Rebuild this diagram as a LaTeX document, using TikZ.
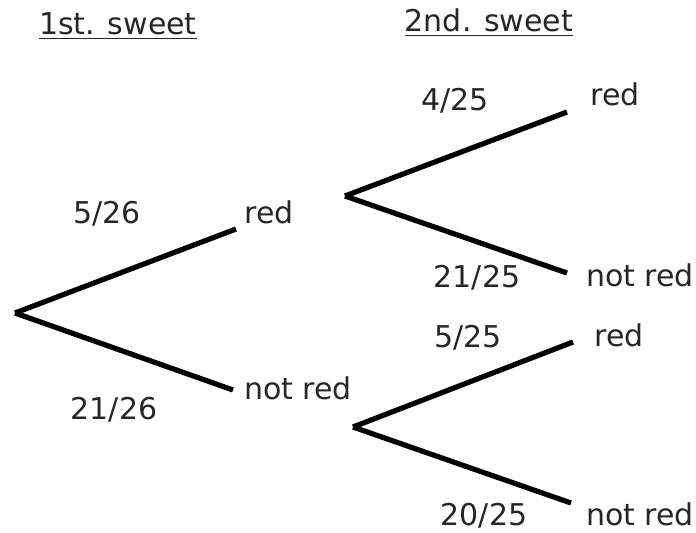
\documentclass[tikz,border=0pt]{standalone}
\usepackage{fontspec}
\setmainfont{DejaVu Sans}

\begin{document}
\begin{tikzpicture}[x=0.5pt,y=-0.5pt,
  lbl/.style={anchor=base,inner sep=0pt,text=black!85,font=\fontsize{15}{18}\selectfont},
  branch/.style={line width=2.6pt}]
  \useasboundingbox (0,0) rectangle (696,533);
  \node[lbl] (h1) at (118,35) {\underline{1st. sweet}};
  \node[lbl] (h2) at (489,32) {\underline{2nd. sweet}};

  \coordinate (o) at (15,313);
  \coordinate (a1) at (236,229);
  \coordinate (b1) at (233,390);
  \coordinate (o2) at (345,196);
  \coordinate (a2) at (567,112);
  \coordinate (b2) at (567,273);
  \coordinate (o3) at (353,427);
  \coordinate (a3) at (573,342);
  \coordinate (b3) at (571,503);

  \node[lbl] (p1) at (107,224) {5/26};
  \node[lbl] (l1) at (269,224) {red};
  \node[lbl] (q1) at (114,420) {21/26};
  \node[lbl] (m1) at (298,400) {not red};
  \node[lbl] (p2) at (455,111) {4/25};
  \node[lbl] (l2) at (615,106) {red};
  \node[lbl] (q2) at (477,288) {21/25};
  \node[lbl] (m2) at (640,287) {not red};
  \node[lbl] (p3) at (468,348) {5/25};
  \node[lbl] (l3) at (619,347) {red};
  \node[lbl] (q3) at (484,526) {20/25};
  \node[lbl] (m3) at (640,526) {not red};

  \path[branch]
  (o) edge (a1)
  (o) edge (b1)
  (o2) edge (a2)
  (o2) edge (b2)
  (o3) edge (a3)
  (o3) edge (b3)
  ;
\end{tikzpicture}
\end{document}
